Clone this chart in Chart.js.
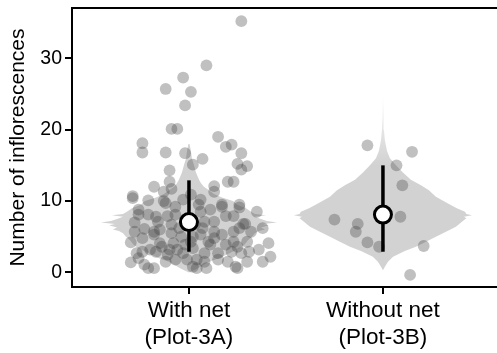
<!DOCTYPE html>
<html><head><meta charset="utf-8">
<script src="https://cdn.jsdelivr.net/npm/chart.js@4"></script>
<style>html,body{margin:0;padding:0;background:#fff;}</style>
</head><body>
<canvas id="c" width="497" height="353"></canvas>
<script>
const categories = [["With net","(Plot-3A)"],["Without net","(Plot-3B)"]];
const categoryPos = [1, 2];
const yTicks = [0, 10, 20, 30];
const yTitle = "Number of inflorescences";

// jittered observations, group 1 (With net)
const withNetX = [1.27,1.09,0.97,0.88,1.01,0.98,0.91,0.94,0.76,0.76,0.88,0.98,1.15,1.19,1.22,1.27,1.07,1.02,1.25,1.30,1.27,0.90,0.90,0.82,0.87,0.91,0.71,0.71,0.79,0.87,0.97,1.20,1.23,1.13,1.13,1.01,1.06,1.17,1.26,
 0.74,0.74,0.79,0.88,0.93,0.83,0.89,0.72,0.84,0.91,0.72,0.77,0.82,0.82,0.91,0.96,0.70,0.76,0.85,0.86,0.92,0.94,0.97,0.76,0.73,0.74,0.83,0.70,0.77,0.79,0.82,0.93,1.02,0.99,0.89,
 1.05,1.17,1.26,1.19,1.23,1.08,1.13,1.28,1.29,1.07,1.13,1.17,1.23,1.26,1.02,1.10,1.11,1.23,1.25,1.30,1.02,1.08,1.15,1.22,1.27,1.31,1.04,1.08,1.15,1.30,1.04,1.09,1.24,1.25,
 1.35,1.38,1.41,1.36,1.42,1.38,1.32,
 0.93,0.98,1.06,1.11,0.95,1.03,0.80,0.88,1.13,1.19,1.01,0.85,1.06,1.20,0.98,0.90];
const withNetY = [35.2,29.0,27.3,25.7,25.3,23.4,20.1,20.1,18.1,16.8,16.8,16.7,19.0,17.6,17.9,16.7,15.9,15.1,15.2,14.9,14.4,14.3,12.7,12.0,11.3,11.7,10.7,10.4,10.1,10.0,10.2,12.7,12.7,12.1,11.3,10.9,10.2,9.5,9.5,
 8.8,8.1,8.1,9.7,9.2,7.8,7.9,7.0,7.1,6.7,5.7,6.1,5.7,5.3,5.5,5.0,4.2,4.8,4.1,3.6,4.1,3.2,2.7,2.9,2.7,2.0,2.9,1.4,1.1,0.6,0.6,1.8,0.8,1.8,2.5,
 9.5,9.2,9.1,7.9,7.9,7.1,7.1,6.8,6.8,6.2,5.7,5.3,5.7,6.2,5.0,4.3,3.9,4.3,3.6,4.3,3.4,2.7,2.7,2.9,2.7,2.9,1.8,1.5,1.8,1.5,0.6,0.6,0.8,0.6,
 8.5,6.2,4.1,3.2,2.2,1.5,5.7,
 8.1,7.4,8.5,8.8,6.2,6.7,3.2,1.5,4.8,3.9,4.3,6.0,5.3,1.5,3.9,3.2];

// jittered observations, group 2 (Without net)
const withoutNetX = [1.92,2.15,2.07,2.10,2.09,1.75,1.87,1.86,1.92,1.98,2.21,2.14];
const withoutNetY = [17.8,16.9,15.0,12.2,7.8,7.4,6.8,5.7,4.2,3.6,3.7,-0.35];

// violin density outlines (half-width in category units at each level)
const violinLevels1 = [0,0.5,1,1.5,2,2.5,3,3.5,4,4.5,5,5.5,5.8,6.0,6.3,6.6,6.8,7.0,7.2,7.5,7.8,8.0,8.2,8.5,9,9.5,10,10.5,11,11.5,12,12.5,13,14,15,16,17,18];
const violinHalf1 = [0,0.041,0.072,0.103,0.155,0.196,0.232,0.268,0.289,0.304,0.325,0.340,0.361,0.392,0.371,0.412,0.381,0.454,0.402,0.371,0.340,0.397,0.340,0.320,0.294,0.247,0.227,0.170,0.129,0.103,0.077,0.062,0.052,0.036,0.026,0.015,0.010,0.003];
const violinLevels2 = [0.3,0.8,1.5,2.2,3,3.6,4.3,5,5.7,6.4,7.2,7.6,7.8,8,8.2,8.5,9,9.6,10.6,11.5,12.2,13,14,15,16,17,18.5,20,22,25];
const violinHalf2 = [0,0.010,0.026,0.052,0.113,0.170,0.222,0.273,0.325,0.376,0.412,0.430,0.418,0.459,0.430,0.423,0.381,0.340,0.273,0.237,0.196,0.144,0.103,0.067,0.036,0.021,0.010,0.005,0.003,0];

// summary: median and interval
const medians = [7.05, 8.1];
const lowerBar = [2.9, 2.9];
const upperBar = [12.9, 15.0];

function violinData(center, levels, half) {
  const right = levels.map((y, i) => ({x: center + half[i], y}));
  const left = levels.map((y, i) => ({x: center - half[i], y})).reverse();
  return right.concat(left);
}
function pts(xs, ys) { return xs.map((x, i) => ({x, y: ys[i]})); }

const FONT = "'Liberation Sans', Arial, Helvetica, sans-serif";
const violinColor = '#d2d2d2';
const dotColor = 'rgba(65,65,65,0.33)';

const datasets = [
  {type:'line', data: violinData(categoryPos[0], violinLevels1, violinHalf1), fill:'shape',
   backgroundColor: violinColor, borderWidth:0, pointRadius:0, tension:0, order:5},
  {type:'line', data: violinData(categoryPos[1], violinLevels2, violinHalf2), fill:'shape',
   backgroundColor: (ctx) => {
     const chart = ctx.chart; const ys = chart.scales.y;
     if (!chart.chartArea || !ys) return violinColor;
     const g = chart.ctx.createLinearGradient(0, ys.getPixelForValue(15), 0, ys.getPixelForValue(25));
     g.addColorStop(0, violinColor); g.addColorStop(1, '#f8f8f8'); return g;
   },
   borderWidth:0, pointRadius:0, tension:0, order:5},
  {type:'scatter', data: pts(withNetX, withNetY), backgroundColor: dotColor, borderWidth:0, pointRadius:5.9, order:4},
  {type:'scatter', data: pts(withoutNetX, withoutNetY), backgroundColor: dotColor, borderWidth:0, pointRadius:5.9, order:4},
];
categoryPos.forEach((c, i) => {
  datasets.push({type:'line', data:[{x:c, y:lowerBar[i]},{x:c, y:upperBar[i]}], borderColor:'#000', borderWidth:3.5, pointRadius:0, fill:false, order:3});
});
datasets.push({type:'scatter', data: categoryPos.map((c, i) => ({x:c, y:medians[i]})), backgroundColor:'#fff', borderColor:'#000', borderWidth:3, pointRadius:8.5, order:1});

const topFrame = {
  id:'topFrame',
  afterDraw(chart){
    const {ctx, chartArea:a} = chart;
    ctx.save(); ctx.strokeStyle='#000'; ctx.lineWidth=2;
    ctx.beginPath(); ctx.moveTo(a.left-1, a.top); ctx.lineTo(a.right, a.top); ctx.stroke(); ctx.restore();
  }
};

new Chart(document.getElementById('c'), {
  data: {datasets},
  plugins:[topFrame],
  options: {
    responsive:false, animation:false, devicePixelRatio:1,
    layout:{autoPadding:false, padding:{top:8, right:0, left:0, bottom:0}},
    plugins:{legend:{display:false}, tooltip:{enabled:false}},
    scales:{
      x:{type:'linear', position:'bottom', min:0.397, max:2.588,
        afterBuildTicks:(s)=>{ s.ticks = categoryPos.map(v=>({value:v})); },
        afterFit:(s)=>{ s.height = 66; s.paddingLeft = 0; s.paddingRight = 0; },
        ticks:{callback:(v, i)=>categories[i], color:'#000', font:{family:FONT, size:22.5}, padding:3, maxRotation:0, autoSkip:false},
        grid:{drawOnChartArea:false, drawTicks:true, tickLength:7, color:'#000', lineWidth:2},
        border:{display:true, color:'#000', width:2}},
      y:{type:'linear', min:-2.04, max:37.04,
        afterBuildTicks:(s)=>{ s.ticks = yTicks.map(v=>({value:v})); },
        afterFit:(s)=>{ s.width = 72; s.paddingTop = 0; s.paddingBottom = 0; },
        ticks:{color:'#000', font:{family:FONT, size:19.5}, padding:3},
        grid:{drawOnChartArea:false, drawTicks:true, tickLength:7, color:'#000', lineWidth:2},
        border:{display:true, color:'#000', width:2},
        title:{display:true, text:yTitle, color:'#000', font:{family:FONT, size:21}, padding:{top:6, bottom:0}}}
    }
  }
});
</script>
</body></html>
